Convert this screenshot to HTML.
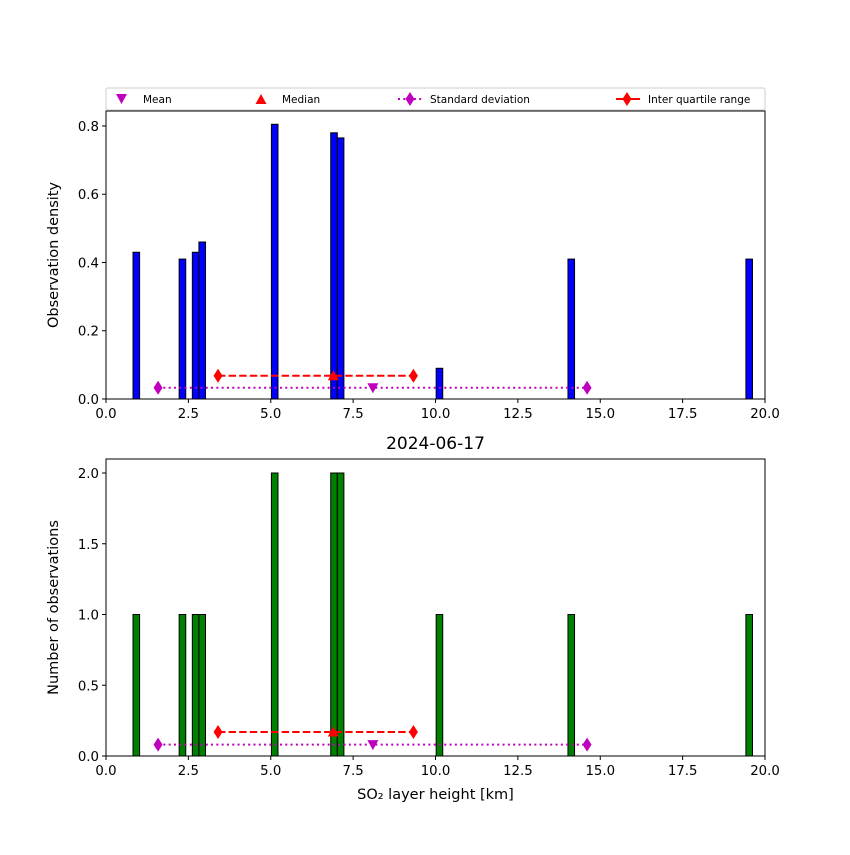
<!DOCTYPE html>
<html><head><meta charset="utf-8"><style>body{margin:0;background:#fff}svg{font-family:"DejaVu Sans","Liberation Sans",sans-serif}</style></head>
<body>
<svg id="c" width="850" height="850" xmlns="http://www.w3.org/2000/svg"></svg>
<script>
const centers=[0.92,2.32,2.72,2.92,5.12,6.92,7.12,10.12,14.12,19.52];
const densities=[0.43,0.41,0.43,0.46,0.805,0.78,0.765,0.09,0.41,0.41];
const counts=[1,1,1,1,2,2,2,1,1,1];
const binWidth=0.2;
const meanVal=8.1, medianVal=6.9, stdRange=[1.58,14.6], iqrRange=[3.4,9.33];
const topMarkY={std:0.033,iqr:0.068}, botMarkY={std:0.08,iqr:0.17};
const xTicks=[0,2.5,5,7.5,10,12.5,15,17.5,20];
const xTickLabels=["0.0","2.5","5.0","7.5","10.0","12.5","15.0","17.5","20.0"];
const topYTicks=[0,0.2,0.4,0.6,0.8], topYLabels=["0.0","0.2","0.4","0.6","0.8"];
const botYTicks=[0,0.5,1,1.5,2], botYLabels=["0.0","0.5","1.0","1.5","2.0"];

const svg=document.getElementById('c');
const NS="http://www.w3.org/2000/svg";
function el(t,a,p){const e=document.createElementNS(NS,t);for(const k in a)e.setAttribute(k,a[k]);(p||svg).appendChild(e);return e;}
const X0=106,X1=765;
const sx=v=>X0+(v-0)/(20)*(X1-X0);

function panel(name,top,bot,ymax,vals,fill,yT,yL,ylab,mk){
  const sy=v=>bot-v/ymax*(bot-top);
  const g=el('g',{});
  
  
  centers.forEach((c,i)=>{
    const r=el('rect',{x:sx(c-binWidth/2),y:sy(vals[i]),width:sx(binWidth)-sx(0),height:bot-sy(vals[i]),fill:fill,stroke:'#000','stroke-width':1},g);
    
    
  });
  const ls=el('line',{x1:sx(stdRange[0]),x2:sx(stdRange[1]),y1:sy(mk.std),y2:sy(mk.std),stroke:'#bf00bf','stroke-width':2,'stroke-dasharray':'2,3.3'},g);
  
  
  const li=el('line',{x1:sx(iqrRange[0]),x2:sx(iqrRange[1]),y1:sy(mk.iqr),y2:sy(mk.iqr),stroke:'#ff0000','stroke-width':2,'stroke-dasharray':'7.4,3.2'},g);
  
  
  const dia=(x,y,c)=>{const d=el('polygon',{points:`${x},${y-7} ${x+4.5},${y} ${x},${y+7} ${x-4.5},${y}`,fill:c},g);};
  stdRange.forEach(v=>dia(sx(v),sy(mk.std),'#bf00bf'));
  iqrRange.forEach(v=>dia(sx(v),sy(mk.iqr),'#ff0000'));
  const mx=sx(meanVal),my=sy(mk.std);
  const m=el('polygon',{points:`${mx-5.5},${my-4.5} ${mx+5.5},${my-4.5} ${mx},${my+5.5}`,fill:'#bf00bf'},g);
  
  const dx=sx(medianVal),dy=sy(mk.iqr);
  const md=el('polygon',{points:`${dx-5.5},${dy+4.5} ${dx+5.5},${dy+4.5} ${dx},${dy-5.5}`,fill:'#ff0000'},g);
  
  const fr=el('rect',{x:X0,y:top,width:X1-X0,height:bot-top,fill:'none',stroke:'#000','stroke-width':1},g);
  
  xTicks.forEach((t,i)=>{el('line',{x1:sx(t),x2:sx(t),y1:bot,y2:bot+4,stroke:'#000'},g);
    const tx=el('text',{x:sx(t),y:bot+19,'font-size':13.3,'text-anchor':'middle'},g);tx.textContent=xTickLabels[i];
    });
  yT.forEach((t,i)=>{el('line',{x1:X0-4,x2:X0,y1:sy(t),y2:sy(t),stroke:'#000'},g);
    const tx=el('text',{x:X0-7,y:sy(t)+5,'font-size':13.3,'text-anchor':'end'},g);tx.textContent=yL[i];
    });
  const yl=el('text',{x:53,y:(top+bot)/2+5,'font-size':14.5,'text-anchor':'middle',transform:`rotate(-90 53 ${(top+bot)/2})`},g);
  yl.textContent=ylab;
}
panel('density-panel',111,399,0.8439,densities,'#0000ff',topYTicks,topYLabels,'Observation density',topMarkY);
panel('count-panel',459,756,2.0*(756-459)/(756-473),counts,'#008000',botYTicks,botYLabels,'Number of observations',botMarkY);

const t=el('text',{x:435.5,y:449,'font-size':17,'text-anchor':'middle'});t.textContent='2024-06-17';

const xl=el('text',{x:435.5,y:799,'font-size':14.5,'text-anchor':'middle'});xl.textContent='SO₂ layer height [km]';


const lg=el('g',{});

el('rect',{x:106,y:88,width:659,height:22,rx:2,fill:'#fff',stroke:'#ccc'},lg);
const ly=99;
el('polygon',{points:`116,${ly-5} 127,${ly-5} 121.5,${ly+5}`,fill:'#bf00bf'},lg);
el('polygon',{points:`255.5,${ly+5} 266.5,${ly+5} 261,${ly-5}`,fill:'#ff0000'},lg);
el('line',{x1:398,x2:422,y1:ly,y2:ly,stroke:'#bf00bf','stroke-width':2,'stroke-dasharray':'2,3.3'},lg);
el('polygon',{points:`410,${ly-7} 414.5,${ly} 410,${ly+7} 405.5,${ly}`,fill:'#bf00bf'},lg);
el('line',{x1:616,x2:640,y1:ly,y2:ly,stroke:'#ff0000','stroke-width':2},lg);
el('polygon',{points:`627,${ly-7} 631.5,${ly} 627,${ly+7} 622.5,${ly}`,fill:'#ff0000'},lg);
[['Mean',143],['Median',282],['Standard deviation',430],['Inter quartile range',648]].forEach(([s,x])=>{
  const e=el('text',{x:x,y:ly+4,'font-size':10.5},lg);e.textContent=s;
  });
</script>
</body></html>
